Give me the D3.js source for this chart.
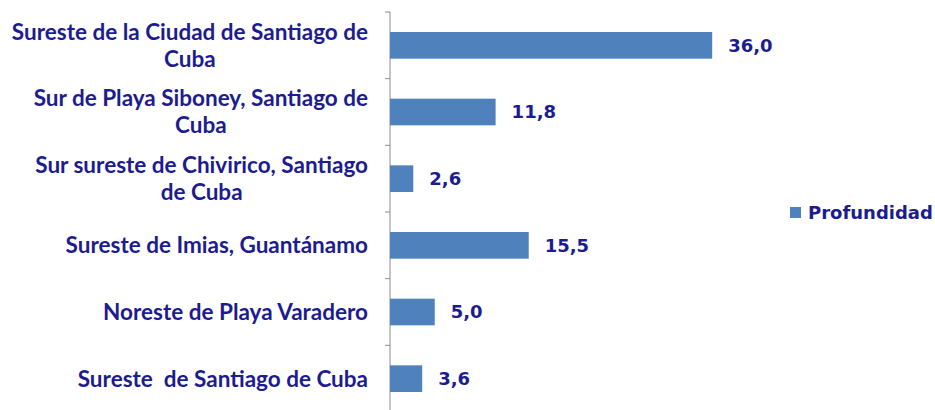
<!DOCTYPE html>
<html>
<head>
<meta charset="utf-8">
<script src="https://cdn.jsdelivr.net/npm/d3@7"></script>
<style>
  body { margin: 0; background: #fff; }
  svg { display: block; }
</style>
</head>
<body>
<div id="chart"></div>
<script>
// categories, top to bottom (line breaks as in the original)
const categories = [
    'Sureste de la Ciudad de Santiago de\nCuba',
    'Sur de Playa Siboney, Santiago de\nCuba',
    'Sur sureste de Chivirico, Santiago\nde Cuba',
    'Sureste de Imias, Guantánamo',
    'Noreste de Playa Varadero',
    'Sureste  de Santiago de Cuba'
];
const profundidad = [36.0, 11.8, 2.6, 15.5, 5.0, 3.6];
const seriesName = 'Profundidad';

const width = 935, height = 410;
const barColor = '#4f81bd';
const textColor = '#1c1c90';

const svg = d3.select('#chart').append('svg')
    .attr('width', width)
    .attr('height', height);

const plotData = categories.map((c, i) => ({cat: c, value: profundidad[i]}));

const x = d3.scaleLinear()
    .domain([0, 40])
    .range([390, 748]);

const y = d3.scaleBand()
    .domain(categories)
    .range([12, 412])
    .paddingInner(0.6)
    .paddingOuter(0.3);

//axis line and ticks at the band boundaries
const axisColor = '#8c8c8c';
svg.append('line')
    .attr('x1', x(0)).attr('x2', x(0))
    .attr('y1', y.range()[0]).attr('y2', y.range()[1])
    .attr('stroke', axisColor)
    .attr('stroke-width', 1);

const boundaries = categories.map(c => y(c) - y.step() * y.paddingOuter());
svg.selectAll('.tick')
    .data(boundaries)
    .enter()
    .append('line')
    .attr('x1', x(0) - 5).attr('x2', x(0))
    .attr('y1', d => d).attr('y2', d => d)
    .attr('stroke', axisColor);

//bars
svg.selectAll('.bar')
    .data(plotData)
    .enter()
    .append('rect')
    .attr('x', x(0))
    .attr('y', d => y(d.cat))
    .attr('width', d => x(d.value) - x(0))
    .attr('height', y.bandwidth())
    .attr('fill', barColor);

//value labels
const fmt = v => d3.format('.1f')(v).replace('.', ',');
svg.selectAll('.val')
    .data(plotData)
    .enter()
    .append('text')
    .attr('x', d => x(d.value) + 16)
    .attr('y', d => y(d.cat) + y.bandwidth() / 2)
    .attr('dy', '0.36em')
    .attr('font-family', 'DejaVu Sans')
    .attr('font-weight', 'bold')
    .attr('font-size', 18)
    .attr('fill', textColor)
    .text(d => fmt(d.value));

//category labels: right aligned block, lines centred on each other
const labelRight = 368;
const lineH = 27;
plotData.forEach(d => {
    const lines = d.cat.split('\n');
    const g = svg.append('text')
        .attr('font-family', 'Lato')
        .attr('font-weight', 'bold')
        .attr('font-size', 22.5)
        .attr('fill', textColor)
        .attr('text-anchor', 'middle')
        .style('white-space', 'pre');
    const cy = y(d.cat) + y.bandwidth() / 2;
    const spans = lines.map((l, i) => g.append('tspan')
        .attr('y', cy + (i - (lines.length - 1) / 2) * lineH)
        .attr('dy', '0.35em')
        .text(l));
    const maxW = d3.max(spans, s => s.node().getComputedTextLength());
    spans.forEach(s => s.attr('x', labelRight - maxW / 2));
});

//legend
svg.append('rect')
    .attr('x', 790).attr('y', 207)
    .attr('width', 11).attr('height', 11)
    .attr('fill', barColor);
svg.append('text')
    .attr('x', 808).attr('y', 212.5)
    .attr('dy', '0.36em')
    .attr('font-family', 'DejaVu Sans')
    .attr('font-weight', 'bold')
    .attr('font-size', 18)
    .attr('fill', textColor)
    .text(seriesName);
</script>
</body>
</html>
